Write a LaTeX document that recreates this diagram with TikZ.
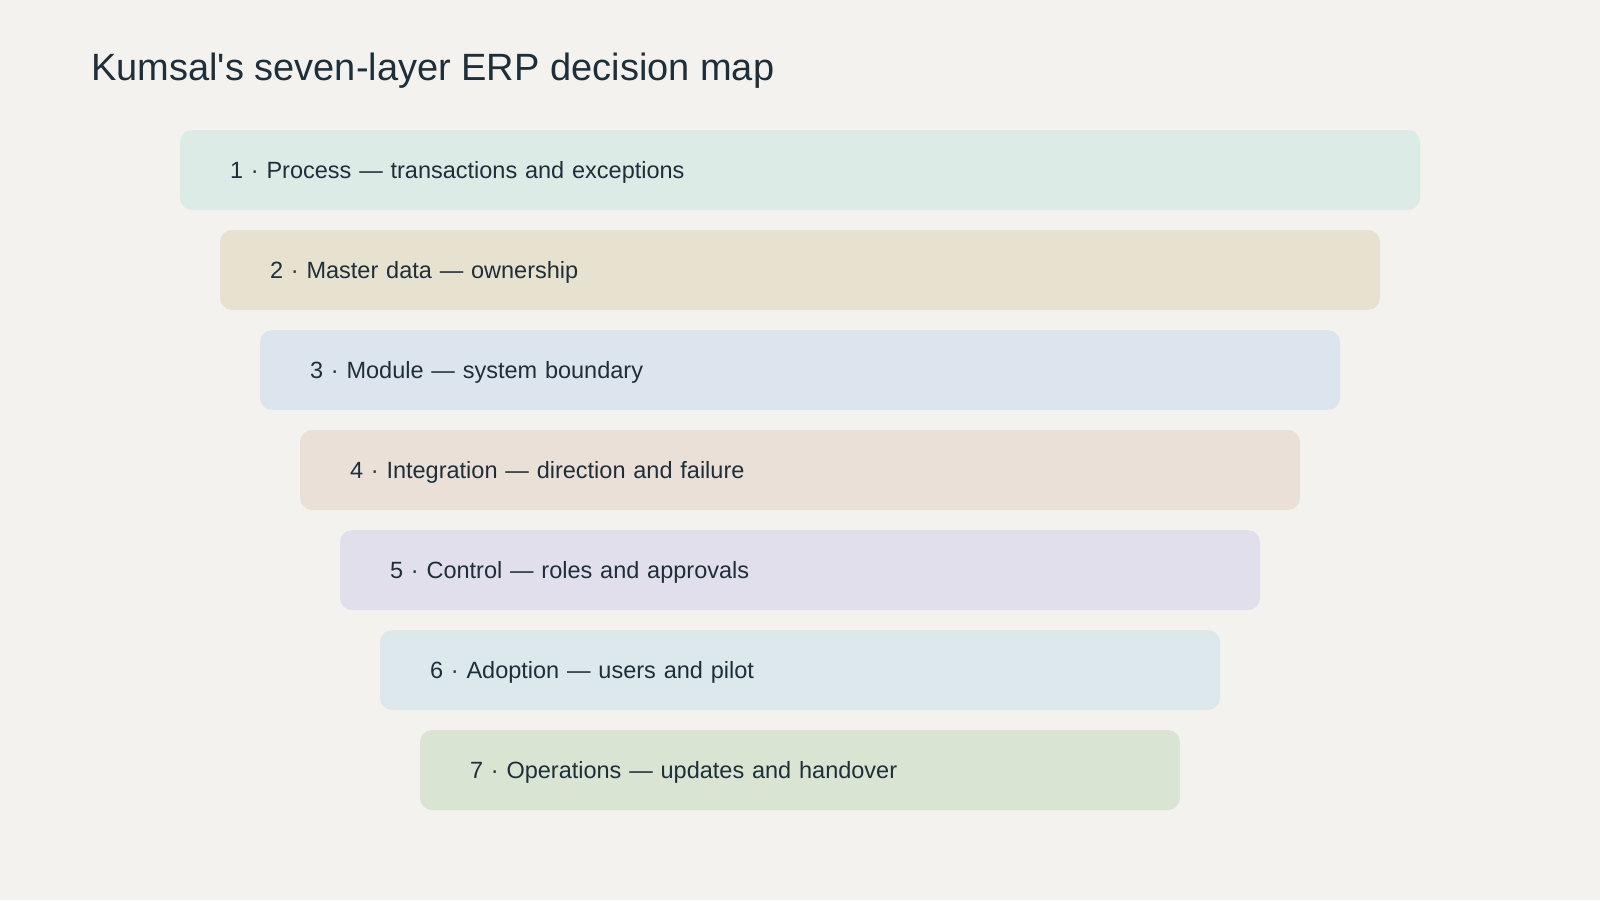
\documentclass[tikz,border=0pt]{standalone}
\usepackage{fontspec}
\setmainfont{Liberation Sans}
\definecolor{bgpaper}{HTML}{F3F2EE}
\definecolor{ink}{HTML}{1E2F39}
\definecolor{lyrA}{HTML}{DDEBE6}
\definecolor{lyrB}{HTML}{E7E1D0}
\definecolor{lyrC}{HTML}{DCE5ED}
\definecolor{lyrD}{HTML}{EAE0D8}
\definecolor{lyrE}{HTML}{E2DFEC}
\definecolor{lyrF}{HTML}{DCE8EC}
\definecolor{lyrG}{HTML}{D9E4D3}
\begin{document}
\begin{tikzpicture}[x=1pt,y=-1pt]
	\def\lyrwd{1240}
	\tikzstyle{layer} = [draw=none, rectangle, rounded corners=12pt, minimum height=80pt, inner xsep=50pt, inner ysep=0pt, text height=17.4pt, text depth=0pt, align=left, text=ink, font=\fontsize{23.5}{28}\selectfont];
	\tikzstyle{heading} = [draw=none, fill=none, anchor=base west, inner sep=0pt, text=ink, font=\fontsize{38}{46}\selectfont];
	\def\layers{lyrA/{Process — transactions and exceptions},lyrB/{Master data — ownership},lyrC/{Module — system boundary},lyrD/{Integration — direction and failure},lyrE/{Control — roles and approvals},lyrF/{Adoption — users and pilot},lyrG/{Operations — updates and handover}};
	\newcounter{lyr};
	\setcounter{lyr}{0};
	\fill[bgpaper] (0,0) rectangle (1600,900);
	\useasboundingbox (0,0) rectangle (1600,900);
	\node[heading, name=title] at (91,80) {Kumsal\textquotesingle s seven-layer ERP decision map};
	\foreach \col/\txt in \layers
	{
		\addtocounter{lyr}{1};
		\pgfmathsetmacro{\tw}{\lyrwd-80*(\thelyr-1)-100}
		\node[layer, fill=\col, name=layer\thelyr, text width=\tw pt] at (800,70+100*\thelyr) {\thelyr\ · \txt};
	}
\end{tikzpicture}
\end{document}
